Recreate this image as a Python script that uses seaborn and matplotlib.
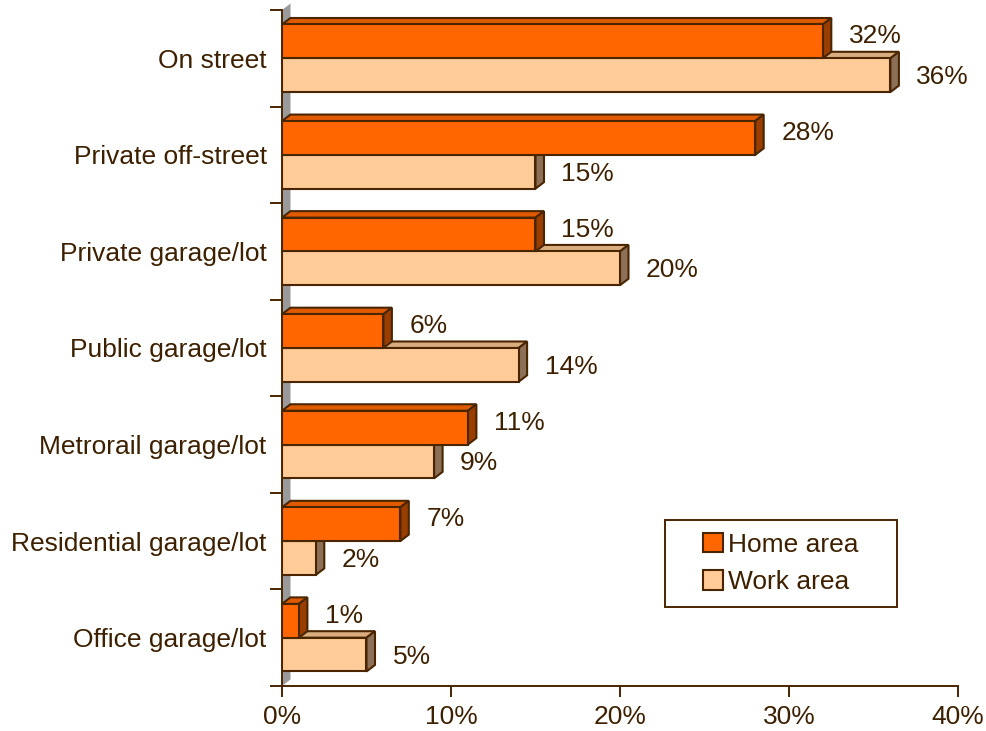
import matplotlib
matplotlib.use('Agg')
import numpy as np
import pandas as pd
import matplotlib.pyplot as plt
import seaborn as sns
from matplotlib.patches import Polygon, Patch, Rectangle
from matplotlib.ticker import FixedLocator

# data
locations = ['On street', 'Private off-street', 'Private garage/lot', 'Public garage/lot',
             'Metrorail garage/lot', 'Residential garage/lot', 'Office garage/lot']
home_pct = [32, 28, 15, 6, 11, 7, 1]
work_pct = [36, 15, 20, 14, 9, 2, 5]
series = ['Home area', 'Work area']
x_ticks = [0, 10, 20, 30, 40]

EDGE = '#4a2600'
TEXT = '#3d2000'
LW = 1.5
front = {'Home area': '#ff6600', 'Work area': '#ffcc99'}
top = {'Home area': '#e05a00', 'Work area': '#d9ad80'}
side = {'Home area': '#993d00', 'Work area': '#8c7058'}

df = pd.DataFrame({
    'location': locations * 2,
    'pct': home_pct + work_pct,
    'area': [series[0]] * len(locations) + [series[1]] * len(locations),
})

sns.set_style('white')
plt.rcParams['font.family'] = ['Liberation Sans', 'DejaVu Sans']

fig = plt.figure(figsize=(9.86, 7.31), dpi=100)
ax = fig.add_axes([0.286, 0.0616, 0.6856, 0.9247])

sns.barplot(data=df, x='pct', y='location', hue='area', order=locations, hue_order=series,
            palette=[front[s] for s in series], saturation=1, orient='h', width=0.7,
            edgecolor=EDGE, linewidth=LW, legend=False, ax=ax)

ax.set_xlim(0, 40)
ax.set_ylim(len(locations) - 0.5, -0.5)

# depth of the fake 3d effect, in data units (about 8 px across, 6 px up)
dx = 8.5 / (ax.get_window_extent().width / 40)
dy = 6.5 / (ax.get_window_extent().height / len(locations))

# grey back wall on the left
wall = Polygon([(0, len(locations) - 0.5), (dx, len(locations) - 0.5 - dy),
                (dx, -0.5 - dy), (0, -0.5)],
               closed=True, facecolor='#9a9a9a', edgecolor='none', zorder=0.5, clip_on=False)
ax.add_patch(wall)

values = {'Home area': home_pct, 'Work area': work_pct}
zord = {'Home area': 4, 'Work area': 2}
yoff = {'Home area': 5, 'Work area': -2}
for container, s in zip(ax.containers, series):
    for bar, val in zip(container, values[s]):
        x0, y0 = bar.get_x(), bar.get_y()
        w, h = bar.get_width(), bar.get_height()
        bar.set_zorder(zord[s])
        top_face = Polygon([(x0, y0), (x0 + w, y0), (x0 + w + dx, y0 - dy), (x0 + dx, y0 - dy)],
                           closed=True, facecolor=top[s], edgecolor=EDGE, linewidth=LW,
                           zorder=zord[s] - 0.5, clip_on=False)
        side_face = Polygon([(x0 + w, y0), (x0 + w, y0 + h), (x0 + w + dx, y0 + h - dy),
                             (x0 + w + dx, y0 - dy)],
                            closed=True, facecolor=side[s], edgecolor=EDGE, linewidth=LW,
                            zorder=zord[s] - 0.5, clip_on=False)
        ax.add_patch(top_face)
        ax.add_patch(side_face)
        ax.annotate(f'{val}%', (w, y0 + h / 2), xytext=(26, yoff[s]), textcoords='offset pixels',
                    ha='left', va='center', fontsize=19, color=TEXT)

# axes styling
for sp in ['top', 'right']:
    ax.spines[sp].set_visible(False)
for sp in ['left', 'bottom']:
    ax.spines[sp].set_color(EDGE)
    ax.spines[sp].set_linewidth(1.4)
    ax.spines[sp].set_zorder(6)

ax.set_xticks(x_ticks)
ax.set_xticklabels([f'{t}%' for t in x_ticks])
ax.yaxis.set_minor_locator(FixedLocator(np.arange(-0.5, len(locations), 1.0)))
ax.tick_params(axis='y', which='major', length=0, pad=11, labelsize=19, labelcolor=TEXT)
ax.tick_params(axis='y', which='minor', length=9, width=1.4, color=EDGE, direction='out', left=True)
ax.tick_params(axis='x', which='major', length=8, width=1.4, color=EDGE, direction='out',
               bottom=True, pad=6, labelsize=19, labelcolor=TEXT)
ax.set_xlabel('')
ax.set_ylabel('')

# legend with its own frame
box = (0.5666, 0.1169, 0.343, 0.1287)
ax.add_patch(Rectangle(box[:2], box[2], box[3], transform=ax.transAxes, facecolor='white',
                       edgecolor=EDGE, linewidth=1.4, zorder=7))
handles = [Patch(facecolor=front[s], edgecolor=EDGE, linewidth=LW, label=s) for s in series]
leg = ax.legend(handles=handles, loc='center', bbox_to_anchor=box, frameon=False, fontsize=19,
                handlelength=0.75, handleheight=0.75, handletextpad=0.2, labelspacing=0.5,
                borderpad=0)
for t in leg.get_texts():
    t.set_color(TEXT)
leg.set_zorder(8)

fig.savefig('out.png', dpi=100)
